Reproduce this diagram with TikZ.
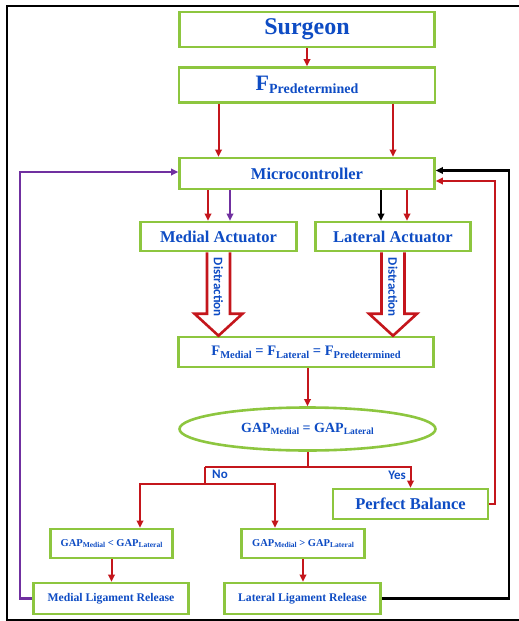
\documentclass[tikz,border=0pt]{standalone}
\usepackage{fontspec}
\setmainfont{Liberation Serif}
\setsansfont{Carlito}
\usetikzlibrary{arrows.meta, calc, shapes.geometric}
\definecolor{boxgreen}{RGB}{141,198,63}
\definecolor{flowred}{RGB}{196,22,28}
\definecolor{loopviolet}{RGB}{112,48,160}
\definecolor{textblue}{RGB}{14,76,196}
\newcommand{\lowidx}[2]{{\fontsize{#1}{#1}\selectfont\raisebox{-0.25em}{#2}}}

\begin{document}
\begin{tikzpicture}[x=1pt, y=-1pt, >={Triangle[length=7pt,width=6.5pt]},
  box/.style={draw=boxgreen, line width=2.6pt, fill=white, text=textblue,
    inner sep=0pt, font=\bfseries\fontsize{#1}{#1}\selectfont},
  flowline/.style={draw=flowred, line width=2pt},
  flow/.style={flowline, ->},
  violetflow/.style={->, draw=loopviolet, line width=2.4pt},
  blackflow/.style={->, draw=black, line width=2.4pt},
  blockarrow/.style={draw=flowred, fill=white, line width=2.6pt},
  distlabel/.style={rotate=-90, inner sep=0pt, text=textblue,
    font=\sffamily\bfseries\fontsize{13}{13}\selectfont},
  branch/.style={inner sep=0pt, text=textblue,
    font=\sffamily\bfseries\fontsize{13}{13}\selectfont}]
  \useasboundingbox (0,0) rectangle (519,621);
  % outer frame
  \draw[line width=2.2pt] (530,6) -- (7,6) -- (7,620) -- (530,620);

  % boxes
  \node[box=24, minimum width=255pt, minimum height=35pt] (surgeon) at (307,29.5) {Surgeon};
  \node[box=22, minimum width=256pt, minimum height=35pt] (fpre) at (307,85) {F\lowidx{14}{Predetermined}};
  \node[box=16.5, minimum width=255pt, minimum height=31pt] (micro) at (307,173.5) {Microcontroller};
  \node[box=16.5, minimum width=156pt, minimum height=29pt] (medact) at (218.5,236.5) {Medial Actuator};
  \node[box=16.5, minimum width=155pt, minimum height=29pt] (latact) at (393,236.5) {Lateral Actuator};
  \node[box=14.5, minimum width=255pt, minimum height=30pt] (feq) at (306,352)
    {F\lowidx{10.5}{Medial} = F\lowidx{10.5}{Lateral} = F\lowidx{10.5}{Predetermined}};
  \node[box=14, shape=ellipse, minimum width=256pt, minimum height=43pt] (gapeq) at (307.5,429)
    {GAP\lowidx{9.5}{Medial} = GAP\lowidx{9.5}{Lateral}};
  \node[box=16.5, minimum width=155pt, minimum height=30pt] (perfect) at (410.5,504) {Perfect Balance};
  \node[box=10.5, minimum width=122pt, minimum height=29pt] (gaplt) at (111.5,543.5)
    {GAP\lowidx{7.5}{Medial} < GAP\lowidx{7.5}{Lateral}};
  \node[box=10.5, minimum width=123pt, minimum height=29pt] (gapgt) at (303,543.5)
    {GAP\lowidx{7.5}{Medial} > GAP\lowidx{7.5}{Lateral}};
  \node[box=11.7, minimum width=155pt, minimum height=31pt] (medlig) at (111,598.5) {Medial Ligament Release};
  \node[box=11.7, minimum width=156pt, minimum height=31pt] (latlig) at (302.5,598.5) {Lateral Ligament Release};

  % distraction arrows
  \foreach \act in {medact, latact} {
    \draw[blockarrow] ($(\act.south)+(-11.5,0)$) -- ($(\act.south |- feq.north)+(-11.5,-22)$)
      -- ++(-12.5,0) -- (\act.south |- feq.north) -- ($(\act.south |- feq.north)+(24,-22)$)
      -- ++(-12.5,0) -- ($(\act.south)+(11.5,0)$);
    \node[distlabel] (dist-\act) at ($(\act.south)!0.42!(\act.south |- feq.north)$) {Distraction};
  }

  % surgeon down to the predetermined force
  \draw[flow] (surgeon) -- (fpre);
  \draw[flow] (fpre.south -| medact) -- (micro.north -| medact);
  \draw[flow] (fpre.south -| latact) -- (micro.north -| latact);
  % microcontroller to actuators
  \draw[flow] ($(micro.south -| medact)+(-10.5,0)$) -- ($(medact.north)+(-10.5,0)$);
  \draw[violetflow] ($(micro.south -| medact)+(11.5,0)$) -- ($(medact.north)+(11.5,0)$);
  \draw[blackflow] ($(micro.south -| latact)+(-12,0)$) -- ($(latact.north)+(-12,0)$);
  \draw[flow] ($(micro.south -| latact)+(14,0)$) -- ($(latact.north)+(14,0)$);
  % force equality to the gap test
  \draw[flow] (feq.south -| gapeq) -- (gapeq.north);
  % yes / no branches
  \coordinate (nobend) at (205,467);
  \coordinate (nosplit) at (205,484);
  \draw[flowline] (gapeq.south) -- (gapeq.south |- nobend);
  \draw[flow] (nobend) -| (perfect.north);
  \draw[flowline] (nobend) -- (nosplit);
  \draw[flow] (nosplit) -| ($(gaplt.north)+(28.5,0)$);
  \draw[flow] (nosplit) -| ($(gapgt.north)+(-28,0)$);
  \node[branch] (nolabel) at (220,474) {No};
  \node[branch] (yeslabel) at (397,475) {Yes};
  % gaps to releases
  \draw[flow] (gaplt.south) -- (gaplt.south |- medlig.north);
  \draw[flow] (gapgt.south) -- (gapgt.south |- latlig.north);
  % feedback back to the microcontroller
  \draw[violetflow] (medlig.west) -- ++(-12.5,0) |- ($(micro.west)+(0,-1.5)$);
  \draw[blackflow] (latlig.east) -- ++(127,0) |- ($(micro.east)+(0,-3)$);
  \draw[flow] (perfect.east) -- ++(5.5,0) |- ($(micro.east)+(0,7.5)$);
\end{tikzpicture}
\end{document}
